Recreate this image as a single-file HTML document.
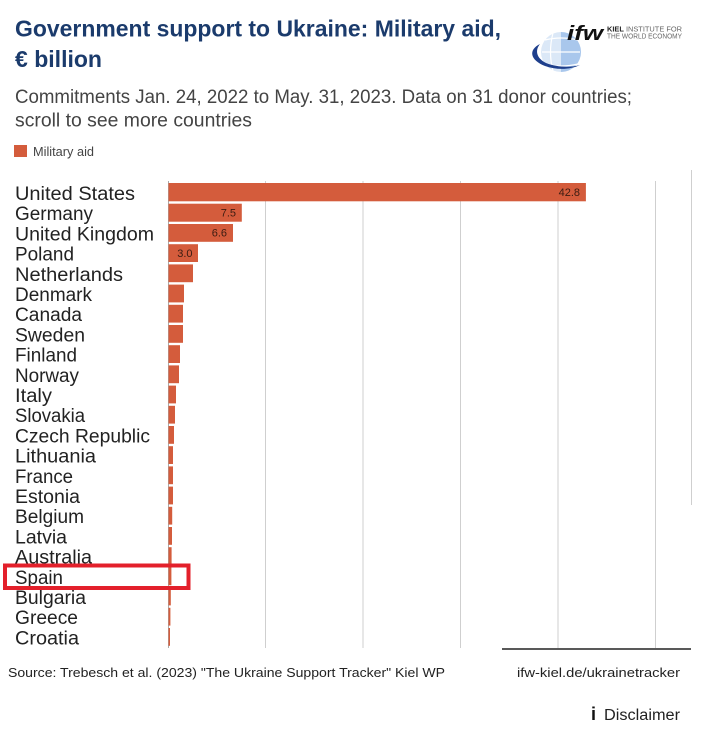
<!DOCTYPE html>
<html><head><meta charset="utf-8">
<style>
html,body{margin:0;padding:0;background:#fff;}
svg{display:block;}
text{font-family:"Liberation Sans",sans-serif;}
</style></head>
<body>
<svg width="718" height="729" viewBox="0 0 718 729" xmlns="http://www.w3.org/2000/svg">
<rect width="718" height="729" fill="#fff"/>
<!-- Title -->
<text x="15" y="36.5" font-size="23" font-weight="bold" fill="#1b3b6c" textLength="486" lengthAdjust="spacingAndGlyphs">Government support to Ukraine: Military aid,</text>
<text x="15" y="67" font-size="23" font-weight="bold" fill="#1b3b6c" textLength="87" lengthAdjust="spacingAndGlyphs">€ billion</text>
<!-- Subtitle -->
<text x="15" y="103" font-size="19" fill="#444" textLength="617" lengthAdjust="spacingAndGlyphs">Commitments Jan. 24, 2022 to May. 31, 2023. Data on 31 donor countries;</text>
<text x="15" y="126.5" font-size="19" fill="#444" textLength="237" lengthAdjust="spacingAndGlyphs">scroll to see more countries</text>
<!-- Legend -->
<rect x="14" y="145" width="13" height="12" fill="#d45c3c"/>
<text x="33" y="156" font-size="13" fill="#444" textLength="61" lengthAdjust="spacingAndGlyphs">Military aid</text>
<!-- Logo -->
<g>
<circle cx="561" cy="52" r="20" fill="#dbe8f7"/>
<path d="M561 32 A20 20 0 0 1 561 72 Z" fill="#a9c7ec"/>
<path d="M545 40 Q561 36 578 40 M542 52 L580 52 M545 64 Q561 68 578 64 M553 33 Q548 52 553 71" stroke="#fff" stroke-width="1.2" fill="none"/>
<path d="M540 44 C528 50 530 60 545 66 C556 70 570 70 580 65 C570 68 556 67 546 63 C536 58 535 50 540 44 Z" fill="#1e3f8c"/>
<text x="567" y="40" font-size="20" font-weight="bold" font-style="italic" font-family="Liberation Serif,serif" fill="#111" textLength="36" lengthAdjust="spacingAndGlyphs">ifw</text>
<text x="607" y="31.5" font-size="7" fill="#666" textLength="75" lengthAdjust="spacingAndGlyphs"><tspan font-weight="bold" fill="#222">KIEL</tspan> INSTITUTE FOR</text>
<text x="607" y="38.5" font-size="7" fill="#666" textLength="75" lengthAdjust="spacingAndGlyphs">THE WORLD ECONOMY</text>
</g>
<!-- Grid -->
<g stroke="#cfcfcf" stroke-width="1">
<line x1="265.5" y1="181" x2="265.5" y2="648"/>
<line x1="363" y1="181" x2="363" y2="648"/>
<line x1="460.5" y1="181" x2="460.5" y2="648"/>
<line x1="558" y1="181" x2="558" y2="648"/>
<line x1="655.5" y1="181" x2="655.5" y2="648"/>
<line x1="691.5" y1="170" x2="691.5" y2="505"/>
</g>
<line x1="168.5" y1="181" x2="168.5" y2="648" stroke="#aaa" stroke-width="1"/>
<line x1="502" y1="649" x2="691" y2="649" stroke="#222" stroke-width="1.5"/>
<!-- Bars -->
<g fill="#d45c3c">
<rect x="168.5" y="183" width="417.4" height="18.3"/>
<rect x="168.5" y="203.7" width="73.3" height="18"/>
<rect x="168.5" y="224" width="64.5" height="17.8"/>
<rect x="168.5" y="244.2" width="29.5" height="17.8"/>
<rect x="168.5" y="264.4" width="24.5" height="17.8"/>
<rect x="168.5" y="284.6" width="15.5" height="17.8"/>
<rect x="168.5" y="304.8" width="14.5" height="17.8"/>
<rect x="168.5" y="325" width="14.5" height="17.8"/>
<rect x="168.5" y="345.2" width="11.5" height="17.8"/>
<rect x="168.5" y="365.4" width="10.5" height="17.8"/>
<rect x="168.5" y="385.6" width="7.5" height="17.8"/>
<rect x="168.5" y="405.8" width="6.5" height="17.8"/>
<rect x="168.5" y="426" width="5.5" height="17.8"/>
<rect x="168.5" y="446.2" width="4.5" height="17.8"/>
<rect x="168.5" y="466.4" width="4.5" height="17.8"/>
<rect x="168.5" y="486.6" width="4.5" height="17.8"/>
<rect x="168.5" y="506.8" width="3.7" height="17.8"/>
<rect x="168.5" y="527" width="3.5" height="17.8"/>
<rect x="168.5" y="547.2" width="3.1" height="17.8"/>
<rect x="168.5" y="567.4" width="2.9" height="17.8"/>
<rect x="168.5" y="587.6" width="2.3" height="17.8"/>
<rect x="168.5" y="607.8" width="1.9" height="17.8"/>
<rect x="168.5" y="628" width="1.5" height="17.8"/>
</g>
<!-- Value labels -->
<g font-size="11" fill="#3b1c12" text-anchor="end">
<text x="580" y="196">42.8</text>
<text x="236" y="216.5">7.5</text>
<text x="227" y="236.5">6.6</text>
<text x="192.5" y="257">3.0</text>
</g>
<!-- Country labels -->
<g font-size="19" fill="#222">
<text x="15" y="200" textLength="120" lengthAdjust="spacingAndGlyphs">United States</text>
<text x="15" y="220.2" textLength="78" lengthAdjust="spacingAndGlyphs">Germany</text>
<text x="15" y="240.4" textLength="139" lengthAdjust="spacingAndGlyphs">United Kingdom</text>
<text x="15" y="260.6" textLength="59" lengthAdjust="spacingAndGlyphs">Poland</text>
<text x="15" y="280.8" textLength="108" lengthAdjust="spacingAndGlyphs">Netherlands</text>
<text x="15" y="301" textLength="77" lengthAdjust="spacingAndGlyphs">Denmark</text>
<text x="15" y="321.2" textLength="67" lengthAdjust="spacingAndGlyphs">Canada</text>
<text x="15" y="341.4" textLength="70" lengthAdjust="spacingAndGlyphs">Sweden</text>
<text x="15" y="361.6" textLength="62" lengthAdjust="spacingAndGlyphs">Finland</text>
<text x="15" y="381.8" textLength="64" lengthAdjust="spacingAndGlyphs">Norway</text>
<text x="15" y="402" textLength="37" lengthAdjust="spacingAndGlyphs">Italy</text>
<text x="15" y="422.2" textLength="70" lengthAdjust="spacingAndGlyphs">Slovakia</text>
<text x="15" y="442.4" textLength="135" lengthAdjust="spacingAndGlyphs">Czech Republic</text>
<text x="15" y="462.6" textLength="81" lengthAdjust="spacingAndGlyphs">Lithuania</text>
<text x="15" y="482.8" textLength="58" lengthAdjust="spacingAndGlyphs">France</text>
<text x="15" y="503" textLength="65" lengthAdjust="spacingAndGlyphs">Estonia</text>
<text x="15" y="523.2" textLength="69" lengthAdjust="spacingAndGlyphs">Belgium</text>
<text x="15" y="543.4" textLength="52" lengthAdjust="spacingAndGlyphs">Latvia</text>
<text x="15" y="563.6" textLength="77" lengthAdjust="spacingAndGlyphs">Australia</text>
<text x="15" y="583.8" textLength="48" lengthAdjust="spacingAndGlyphs">Spain</text>
<text x="15" y="604" textLength="71" lengthAdjust="spacingAndGlyphs">Bulgaria</text>
<text x="15" y="624.2" textLength="63" lengthAdjust="spacingAndGlyphs">Greece</text>
<text x="15" y="644.4" textLength="64" lengthAdjust="spacingAndGlyphs">Croatia</text>
</g>
<!-- Spain highlight -->
<rect x="5" y="565.5" width="183.5" height="22.5" fill="none" stroke="#e3202b" stroke-width="4"/>
<!-- Footer -->
<text x="8" y="677" font-size="13" fill="#222" textLength="437" lengthAdjust="spacingAndGlyphs">Source: Trebesch et al. (2023) "The Ukraine Support Tracker" Kiel WP</text>
<text x="517" y="677" font-size="13" fill="#222" textLength="163" lengthAdjust="spacingAndGlyphs">ifw-kiel.de/ukrainetracker</text>
<text x="591" y="720" font-size="18" font-weight="bold" font-family="Liberation Serif,serif" fill="#111">i</text>
<text x="604" y="720" font-size="15.5" fill="#222" textLength="76" lengthAdjust="spacingAndGlyphs">Disclaimer</text>
</svg>
</body></html>
